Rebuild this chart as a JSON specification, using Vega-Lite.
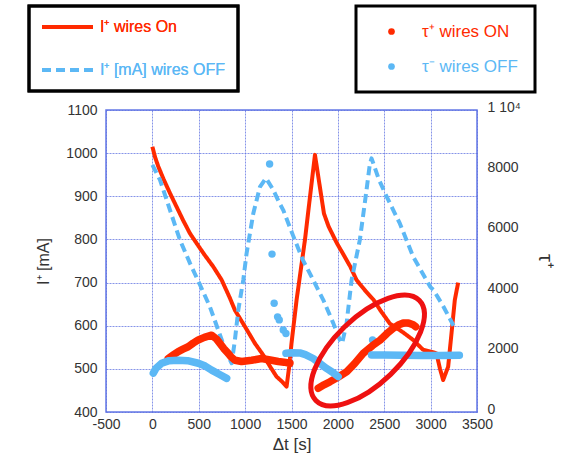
{
  "$schema": "https://vega.github.io/schema/vega-lite/v6.json",
  "width": 371,
  "height": 302,
  "autosize": {"type": "none"},
  "padding": {"left": 106, "top": 110, "right": 95, "bottom": 45},
  "background": "white",
  "datasets": {
    "cur": [
      {"t": 0, "I": 1015, "s": "I⁺ wires On"}, {"t": 30, "I": 990, "s": "I⁺ wires On"}, {"t": 64, "I": 969, "s": "I⁺ wires On"},
      {"t": 120, "I": 940, "s": "I⁺ wires On"}, {"t": 190, "I": 907, "s": "I⁺ wires On"}, {"t": 260, "I": 876, "s": "I⁺ wires On"},
      {"t": 330, "I": 845, "s": "I⁺ wires On"}, {"t": 405, "I": 814, "s": "I⁺ wires On"}, {"t": 477, "I": 791, "s": "I⁺ wires On"},
      {"t": 560, "I": 765, "s": "I⁺ wires On"}, {"t": 656, "I": 737, "s": "I⁺ wires On"}, {"t": 747, "I": 706, "s": "I⁺ wires On"},
      {"t": 836, "I": 664, "s": "I⁺ wires On"}, {"t": 890, "I": 636, "s": "I⁺ wires On"}, {"t": 998, "I": 598, "s": "I⁺ wires On"},
      {"t": 1106, "I": 559, "s": "I⁺ wires On"}, {"t": 1195, "I": 532, "s": "I⁺ wires On"}, {"t": 1270, "I": 505, "s": "I⁺ wires On"},
      {"t": 1339, "I": 482, "s": "I⁺ wires On"}, {"t": 1400, "I": 470, "s": "I⁺ wires On"}, {"t": 1447, "I": 459, "s": "I⁺ wires On"},
      {"t": 1475, "I": 505, "s": "I⁺ wires On"}, {"t": 1500, "I": 559, "s": "I⁺ wires On"}, {"t": 1555, "I": 660, "s": "I⁺ wires On"},
      {"t": 1645, "I": 799, "s": "I⁺ wires On"}, {"t": 1700, "I": 900, "s": "I⁺ wires On"}, {"t": 1753, "I": 996, "s": "I⁺ wires On"},
      {"t": 1800, "I": 930, "s": "I⁺ wires On"}, {"t": 1850, "I": 860, "s": "I⁺ wires On"}, {"t": 1900, "I": 830, "s": "I⁺ wires On"},
      {"t": 1990, "I": 791, "s": "I⁺ wires On"}, {"t": 2060, "I": 765, "s": "I⁺ wires On"}, {"t": 2134, "I": 737, "s": "I⁺ wires On"},
      {"t": 2201, "I": 706, "s": "I⁺ wires On"}, {"t": 2300, "I": 680, "s": "I⁺ wires On"}, {"t": 2385, "I": 660, "s": "I⁺ wires On"},
      {"t": 2460, "I": 635, "s": "I⁺ wires On"}, {"t": 2560, "I": 605, "s": "I⁺ wires On"}, {"t": 2700, "I": 585, "s": "I⁺ wires On"},
      {"t": 2812, "I": 567, "s": "I⁺ wires On"}, {"t": 2920, "I": 544, "s": "I⁺ wires On"}, {"t": 3000, "I": 540, "s": "I⁺ wires On"},
      {"t": 3063, "I": 536, "s": "I⁺ wires On"}, {"t": 3100, "I": 501, "s": "I⁺ wires On"}, {"t": 3135, "I": 474, "s": "I⁺ wires On"},
      {"t": 3189, "I": 505, "s": "I⁺ wires On"}, {"t": 3225, "I": 582, "s": "I⁺ wires On"}, {"t": 3261, "I": 660, "s": "I⁺ wires On"},
      {"t": 3297, "I": 700, "s": "I⁺ wires On"},
      {"t": 0, "I": 973, "s": "I⁺ [mA] wires OFF"}, {"t": 82, "I": 938, "s": "I⁺ [mA] wires OFF"}, {"t": 190, "I": 868, "s": "I⁺ [mA] wires OFF"},
      {"t": 297, "I": 799, "s": "I⁺ [mA] wires OFF"}, {"t": 405, "I": 745, "s": "I⁺ [mA] wires OFF"}, {"t": 513, "I": 695, "s": "I⁺ [mA] wires OFF"},
      {"t": 620, "I": 644, "s": "I⁺ [mA] wires OFF"}, {"t": 710, "I": 590, "s": "I⁺ [mA] wires OFF"}, {"t": 800, "I": 536, "s": "I⁺ [mA] wires OFF"},
      {"t": 855, "I": 513, "s": "I⁺ [mA] wires OFF"}, {"t": 890, "I": 567, "s": "I⁺ [mA] wires OFF"}, {"t": 926, "I": 636, "s": "I⁺ [mA] wires OFF"},
      {"t": 980, "I": 706, "s": "I⁺ [mA] wires OFF"}, {"t": 1016, "I": 768, "s": "I⁺ [mA] wires OFF"}, {"t": 1088, "I": 860, "s": "I⁺ [mA] wires OFF"},
      {"t": 1160, "I": 922, "s": "I⁺ [mA] wires OFF"}, {"t": 1225, "I": 942, "s": "I⁺ [mA] wires OFF"}, {"t": 1303, "I": 915, "s": "I⁺ [mA] wires OFF"},
      {"t": 1371, "I": 884, "s": "I⁺ [mA] wires OFF"}, {"t": 1411, "I": 868, "s": "I⁺ [mA] wires OFF"}, {"t": 1515, "I": 810, "s": "I⁺ [mA] wires OFF"},
      {"t": 1623, "I": 752, "s": "I⁺ [mA] wires OFF"}, {"t": 1734, "I": 706, "s": "I⁺ [mA] wires OFF"}, {"t": 1806, "I": 675, "s": "I⁺ [mA] wires OFF"},
      {"t": 1842, "I": 660, "s": "I⁺ [mA] wires OFF"}, {"t": 1950, "I": 606, "s": "I⁺ [mA] wires OFF"}, {"t": 2022, "I": 567, "s": "I⁺ [mA] wires OFF"},
      {"t": 2046, "I": 559, "s": "I⁺ [mA] wires OFF"}, {"t": 2094, "I": 606, "s": "I⁺ [mA] wires OFF"}, {"t": 2148, "I": 706, "s": "I⁺ [mA] wires OFF"},
      {"t": 2237, "I": 799, "s": "I⁺ [mA] wires OFF"}, {"t": 2300, "I": 900, "s": "I⁺ [mA] wires OFF"}, {"t": 2345, "I": 975, "s": "I⁺ [mA] wires OFF"},
      {"t": 2363, "I": 988, "s": "I⁺ [mA] wires OFF"}, {"t": 2440, "I": 940, "s": "I⁺ [mA] wires OFF"}, {"t": 2526, "I": 899, "s": "I⁺ [mA] wires OFF"},
      {"t": 2668, "I": 837, "s": "I⁺ [mA] wires OFF"}, {"t": 2812, "I": 760, "s": "I⁺ [mA] wires OFF"}, {"t": 2996, "I": 690, "s": "I⁺ [mA] wires OFF"},
      {"t": 3031, "I": 683, "s": "I⁺ [mA] wires OFF"}, {"t": 3139, "I": 644, "s": "I⁺ [mA] wires OFF"}, {"t": 3247, "I": 600, "s": "I⁺ [mA] wires OFF"}
    ],
    "tauBand": [
      {"t": 171, "tau": 1771, "s": "τ⁺ wires ON", "seg": "r1"}, {"t": 230, "tau": 1900, "s": "τ⁺ wires ON", "seg": "r1"},
      {"t": 279, "tau": 2000, "s": "τ⁺ wires ON", "seg": "r1"}, {"t": 330, "tau": 2080, "s": "τ⁺ wires ON", "seg": "r1"},
      {"t": 386, "tau": 2160, "s": "τ⁺ wires ON", "seg": "r1"}, {"t": 440, "tau": 2280, "s": "τ⁺ wires ON", "seg": "r1"},
      {"t": 495, "tau": 2386, "s": "τ⁺ wires ON", "seg": "r1"}, {"t": 560, "tau": 2470, "s": "τ⁺ wires ON", "seg": "r1"},
      {"t": 639, "tau": 2543, "s": "τ⁺ wires ON", "seg": "r1"}, {"t": 690, "tau": 2420, "s": "τ⁺ wires ON", "seg": "r1"},
      {"t": 728, "tau": 2271, "s": "τ⁺ wires ON", "seg": "r1"}, {"t": 770, "tau": 2100, "s": "τ⁺ wires ON", "seg": "r1"},
      {"t": 818, "tau": 1943, "s": "τ⁺ wires ON", "seg": "r1"}, {"t": 850, "tau": 1820, "s": "τ⁺ wires ON", "seg": "r1"},
      {"t": 890, "tau": 1714, "s": "τ⁺ wires ON", "seg": "r1"}, {"t": 962, "tau": 1671, "s": "τ⁺ wires ON", "seg": "r1"},
      {"t": 1070, "tau": 1714, "s": "τ⁺ wires ON", "seg": "r1"}, {"t": 1178, "tau": 1771, "s": "τ⁺ wires ON", "seg": "r1"},
      {"t": 1285, "tau": 1714, "s": "τ⁺ wires ON", "seg": "r1"}, {"t": 1357, "tau": 1671, "s": "τ⁺ wires ON", "seg": "r1"},
      {"t": 1420, "tau": 1650, "s": "τ⁺ wires ON", "seg": "r1"}, {"t": 1483, "tau": 1614, "s": "τ⁺ wires ON", "seg": "r1"},
      {"t": 1788, "tau": 786, "s": "τ⁺ wires ON", "seg": "r2"}, {"t": 1850, "tau": 900, "s": "τ⁺ wires ON", "seg": "r2"},
      {"t": 1914, "tau": 1000, "s": "τ⁺ wires ON", "seg": "r2"}, {"t": 2000, "tau": 1150, "s": "τ⁺ wires ON", "seg": "r2"},
      {"t": 2094, "tau": 1329, "s": "τ⁺ wires ON", "seg": "r2"}, {"t": 2180, "tau": 1600, "s": "τ⁺ wires ON", "seg": "r2"},
      {"t": 2273, "tau": 1943, "s": "τ⁺ wires ON", "seg": "r2"}, {"t": 2374, "tau": 2200, "s": "τ⁺ wires ON", "seg": "r2"},
      {"t": 2457, "tau": 2386, "s": "τ⁺ wires ON", "seg": "r2"}, {"t": 2530, "tau": 2600, "s": "τ⁺ wires ON", "seg": "r2"},
      {"t": 2596, "tau": 2771, "s": "τ⁺ wires ON", "seg": "r2"}, {"t": 2650, "tau": 2880, "s": "τ⁺ wires ON", "seg": "r2"},
      {"t": 2704, "tau": 2943, "s": "τ⁺ wires ON", "seg": "r2"}, {"t": 2760, "tau": 2950, "s": "τ⁺ wires ON", "seg": "r2"},
      {"t": 2812, "tau": 2886, "s": "τ⁺ wires ON", "seg": "r2"}, {"t": 2840, "tau": 2820, "s": "τ⁺ wires ON", "seg": "r2"},
      {"t": 10, "tau": 1286, "s": "τ⁻ wires OFF", "seg": "b1"}, {"t": 40, "tau": 1450, "s": "τ⁻ wires OFF", "seg": "b1"},
      {"t": 100, "tau": 1614, "s": "τ⁻ wires OFF", "seg": "b1"}, {"t": 180, "tau": 1700, "s": "τ⁻ wires OFF", "seg": "b1"},
      {"t": 279, "tau": 1714, "s": "τ⁻ wires OFF", "seg": "b1"}, {"t": 380, "tau": 1700, "s": "τ⁻ wires OFF", "seg": "b1"},
      {"t": 495, "tau": 1614, "s": "τ⁻ wires OFF", "seg": "b1"}, {"t": 570, "tau": 1520, "s": "τ⁻ wires OFF", "seg": "b1"},
      {"t": 639, "tau": 1386, "s": "τ⁻ wires OFF", "seg": "b1"}, {"t": 720, "tau": 1250, "s": "τ⁻ wires OFF", "seg": "b1"},
      {"t": 801, "tau": 1114, "s": "τ⁻ wires OFF", "seg": "b1"},
      {"t": 1440, "tau": 1943, "s": "τ⁻ wires OFF", "seg": "b2"}, {"t": 1500, "tau": 1960, "s": "τ⁻ wires OFF", "seg": "b2"},
      {"t": 1590, "tau": 1957, "s": "τ⁻ wires OFF", "seg": "b2"}, {"t": 1650, "tau": 1900, "s": "τ⁻ wires OFF", "seg": "b2"},
      {"t": 1734, "tau": 1771, "s": "τ⁻ wires OFF", "seg": "b2"}, {"t": 1800, "tau": 1620, "s": "τ⁻ wires OFF", "seg": "b2"},
      {"t": 1878, "tau": 1443, "s": "τ⁻ wires OFF", "seg": "b2"}, {"t": 1950, "tau": 1300, "s": "τ⁻ wires OFF", "seg": "b2"},
      {"t": 2003, "tau": 1171, "s": "τ⁻ wires OFF", "seg": "b2"},
      {"t": 2363, "tau": 1886, "s": "τ⁻ wires OFF", "seg": "b3"}, {"t": 2500, "tau": 1886, "s": "τ⁻ wires OFF", "seg": "b3"},
      {"t": 2700, "tau": 1880, "s": "τ⁻ wires OFF", "seg": "b3"}, {"t": 2900, "tau": 1870, "s": "τ⁻ wires OFF", "seg": "b3"},
      {"t": 3100, "tau": 1870, "s": "τ⁻ wires OFF", "seg": "b3"}, {"t": 3310, "tau": 1880, "s": "τ⁻ wires OFF", "seg": "b3"}
    ],
    "tauDots": [
      {"t": 1264, "tau": 8214, "s": "τ⁻ wires OFF"}, {"t": 1290, "tau": 5229, "s": "τ⁻ wires OFF"},
      {"t": 1313, "tau": 3600, "s": "τ⁻ wires OFF"}, {"t": 1350, "tau": 3150, "s": "τ⁻ wires OFF"},
      {"t": 1368, "tau": 3050, "s": "τ⁻ wires OFF"}, {"t": 1411, "tau": 2714, "s": "τ⁻ wires OFF"},
      {"t": 1440, "tau": 2600, "s": "τ⁻ wires OFF"}, {"t": 2374, "tau": 2386, "s": "τ⁻ wires OFF"}
    ],
    "mark": [{"t": 2321, "tau": 2036}]
  },
  "layer": [
    {
      "layer": [
        {
          "data": {"name": "cur"},
          "mark": {"type": "line", "strokeWidth": 4, "strokeJoin": "round"},
          "encoding": {
            "x": {
              "field": "t", "type": "quantitative",
              "scale": {"domain": [-500, 3500], "nice": false, "zero": false},
              "axis": {"title": "Δt [s]", "values": [-500, 0, 500, 1000, 1500, 2000, 2500, 3000, 3500], "format": "d", "labelExpr": "datum.value == -500 ? '-500' : datum.label", "labelPadding": 5, "titleFontSize": 17, "titlePadding": 5, "labelOverlap": false, "labelFlush": false}
            },
            "y": {
              "field": "I", "type": "quantitative",
              "scale": {"domain": [400, 1100], "nice": false, "zero": false},
              "axis": {"orient": "left", "title": "I⁺ [mA]", "values": [400, 500, 600, 700, 800, 900, 1000, 1100], "format": "d", "labelPadding": 9, "titleFontSize": 16, "titlePadding": 14, "labelOverlap": false}
            },
            "color": {
              "field": "s", "type": "nominal",
              "scale": {"domain": ["I⁺ wires On", "I⁺ [mA] wires OFF"], "range": ["#ff2a00", "#5cb8f5"]},
              "legend": {"orient": "none", "legendX": -77, "legendY": -104, "title": null, "symbolType": "stroke", "symbolSize": 2601, "symbolStrokeWidth": 4, "labelFontSize": 16, "labelOffset": 5, "clipHeight": 16, "rowPadding": 27, "padding": 13, "strokeColor": "black", "symbolOffset": -2,
                "encode": {"legend": {"update": {"strokeWidth": {"value": 3}}}, "symbols": {"update": {"strokeDash": {"signal": "datum.value === 'I⁺ wires On' ? [1, 0] : [9, 5]"}}}, "labels": {"update": {"fill": {"signal": "datum.value === 'I⁺ wires On' ? '#ff2a00' : '#5cb8f5'"}}}}}
            },
            "strokeDash": {
              "field": "s", "type": "nominal",
              "scale": {"domain": ["I⁺ wires On", "I⁺ [mA] wires OFF"], "range": [[1, 0], [9, 5]]},
              "legend": {"orient": "none", "legendX": -77, "legendY": -104, "title": null, "symbolType": "stroke", "symbolSize": 2601, "symbolStrokeWidth": 4, "labelFontSize": 16, "labelOffset": 5, "clipHeight": 16, "rowPadding": 27, "padding": 13, "strokeColor": "black", "symbolOffset": -2,
                "encode": {"legend": {"update": {"strokeWidth": {"value": 3}}}, "symbols": {"update": {"strokeDash": {"signal": "datum.value === 'I⁺ wires On' ? [1, 0] : [9, 5]"}}}, "labels": {"update": {"fill": {"signal": "datum.value === 'I⁺ wires On' ? '#ff2a00' : '#5cb8f5'"}}}}}
            }
          }
        }
      ]
    },
    {
      "layer": [
        {
          "data": {"name": "tauDots"},
          "mark": {"type": "point", "filled": true, "size": 55, "opacity": 1},
          "encoding": {
            "x": {"field": "t", "type": "quantitative", "scale": {"domain": [-500, 3500], "nice": false, "zero": false}},
            "y": {
              "field": "tau", "type": "quantitative",
              "scale": {"domain": [0, 10000], "nice": false},
              "axis": {"orient": "right", "title": "τ⁺", "values": [0, 2000, 4000, 6000, 8000, 10000], "format": "d", "labelExpr": "datum.value == 10000 ? '1 10⁴' : datum.label", "labelPadding": 10, "labelOffset": -3, "titleFontSize": 20, "titleAngle": 90, "titlePadding": 14, "labelOverlap": false}
            },
            "color": {
              "field": "s", "type": "nominal",
              "scale": {"domain": ["τ⁺ wires ON", "τ⁻ wires OFF"], "range": ["#ff2a00", "#5cb8f5"]},
              "legend": {"orient": "none", "legendX": 250, "legendY": -104, "title": null, "symbolType": "circle", "symbolSize": 45, "labelFontSize": 17, "labelOffset": 22, "clipHeight": 17, "rowPadding": 17, "padding": 17, "symbolOffset": 10, "strokeColor": "black",
                "encode": {"legend": {"update": {"strokeWidth": {"value": 3}}}, "symbols": {"update": {"fill": {"signal": "datum.value === 'τ⁺ wires ON' ? '#ff2a00' : '#5cb8f5'"}, "strokeWidth": {"value": 0}, "opacity": {"value": 1}}}, "labels": {"update": {"fill": {"signal": "datum.value === 'τ⁺ wires ON' ? '#ff2a00' : '#5cb8f5'"}}}}}
            }
          }
        },
        {
          "data": {"name": "tauBand"},
          "mark": {"type": "line", "strokeWidth": 7.5, "strokeCap": "round", "strokeJoin": "round"},
          "encoding": {
            "x": {"field": "t", "type": "quantitative"},
            "y": {"field": "tau", "type": "quantitative"},
            "color": {
              "field": "s", "type": "nominal",
              "scale": {"domain": ["τ⁺ wires ON", "τ⁻ wires OFF"], "range": ["#ff2a00", "#5cb8f5"]},
              "legend": {"orient": "none", "legendX": 250, "legendY": -104, "title": null, "symbolType": "circle", "symbolSize": 45, "labelFontSize": 17, "labelOffset": 22, "clipHeight": 17, "rowPadding": 17, "padding": 17, "symbolOffset": 10, "strokeColor": "black",
                "encode": {"legend": {"update": {"strokeWidth": {"value": 3}}}, "symbols": {"update": {"fill": {"signal": "datum.value === 'τ⁺ wires ON' ? '#ff2a00' : '#5cb8f5'"}, "strokeWidth": {"value": 0}, "opacity": {"value": 1}}}, "labels": {"update": {"fill": {"signal": "datum.value === 'τ⁺ wires ON' ? '#ff2a00' : '#5cb8f5'"}}}}}
            },
            "detail": {"field": "seg", "type": "nominal"}
          }
        },
        {
          "data": {"name": "mark"},
          "mark": {"type": "point", "shape": "M -1 0 A 1 0.46 0 1 1 1 0 A 1 0.46 0 1 1 -1 0 Z", "size": 20736, "angle": 316, "filled": false, "color": "#ee1111", "strokeWidth": 5, "opacity": 1},
          "encoding": {
            "x": {"field": "t", "type": "quantitative"},
            "y": {"field": "tau", "type": "quantitative"}
          }
        }
      ]
    }
  ],
  "resolve": {"scale": {"y": "independent", "color": "independent"}},
  "config": {
    "font": "Liberation Sans",
    "view": {"stroke": "#6478e6", "strokeWidth": 1.5},
    "axis": {
      "labelFont": "Liberation Sans", "labelFontSize": 14, "labelColor": "#333333",
      "titleFont": "Liberation Sans", "titleColor": "#333333", "titleFontWeight": "normal",
      "ticks": false, "domain": false, "grid": true,
      "gridColor": "#5d70e0", "gridDash": [2, 1], "gridOpacity": 0.75, "gridWidth": 1
    },
    "legend": {"labelFont": "Liberation Sans"}
  }
}
